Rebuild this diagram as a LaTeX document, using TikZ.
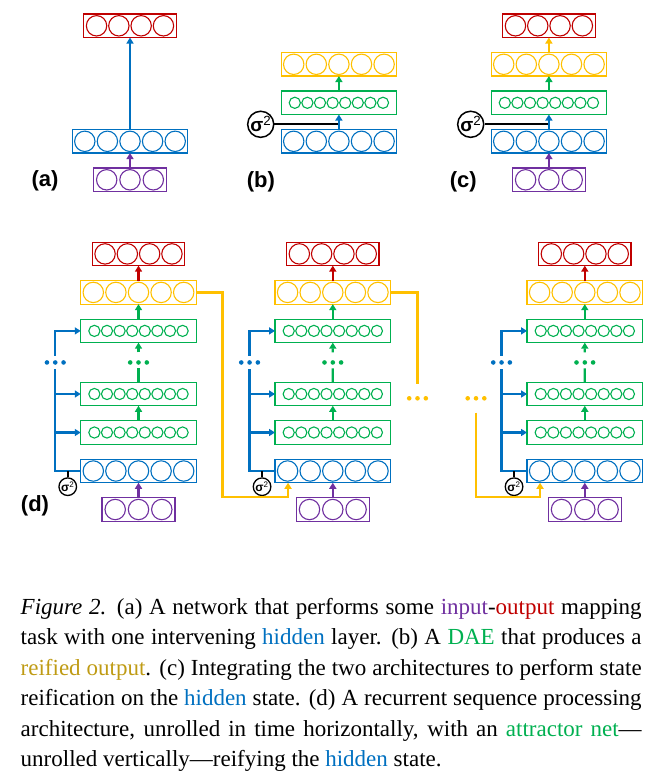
\documentclass[tikz,border=0pt]{standalone}
\usepackage{fontspec}
\setmainfont{Liberation Serif}
\setsansfont{Liberation Sans}
\usetikzlibrary{positioning}
\usetikzlibrary{calc}
\usetikzlibrary{arrows.meta}

\definecolor{outred}{RGB}{192,0,0}
\definecolor{hidblue}{RGB}{0,112,192}
\definecolor{inpurple}{RGB}{112,48,160}
\definecolor{daegreen}{RGB}{0,176,80}
\definecolor{reiyellow}{RGB}{255,192,0}
\definecolor{capgold}{RGB}{191,155,20}

% units drawn inside a layer box: node, colour, count, pitch, radius
\newcommand{\neurons}[5]{%
  \foreach \k in {1,...,#3}
    \draw[draw=#2, line width=1.1pt] ($(#1.center)+({(\k-(#3+1)/2)*#4},0)$) circle (#5);
}
% three dots: centre, colour
\newcommand{\dotrow}[2]{%
  \foreach \dx in {-8.3,0,8.3}
    \fill[#2] ($(#1)+(\dx,0)$) circle (2.3pt);
}

\begin{document}
\begin{tikzpicture}[x=1pt, y=-1pt, node distance=15pt,
    layer/.style={draw=#1, line width=1.3pt, minimum height=23.5pt, inner sep=0pt, outer sep=0pt},
    five/.style={minimum width=115.5pt},
    four/.style={minimum width=92.5pt},
    three/.style={minimum width=73pt},
    flow/.style={draw=#1, line width=2.2pt, -{Triangle[length=6pt,width=7pt]}},
    wire/.style={draw=#1, line width=2.2pt},
    sigtick/.style={draw=black, line width=1.6pt},
    noise/.style={draw, circle, line width=1.5pt, minimum size=25pt, inner sep=0pt, font=\sffamily\bfseries\fontsize{19}{19}\selectfont},
    smallnoise/.style={noise, minimum size=17.6pt, line width=1.3pt, font=\sffamily\bfseries\fontsize{12}{12}\selectfont},
    panel/.style={font=\sffamily\bfseries\fontsize{22}{22}\selectfont},
    captext/.style={align=left, inner sep=0pt, font=\fontsize{23}{30.5}\selectfont}]
    \useasboundingbox (0,0) rectangle (664,776);

    % (a) input - hidden - output
    \node[layer=hidblue, five] (a-hid) at (130,141.3) {};
    \node[layer=outred, four, above=92pt of a-hid] (a-out) {};
    \node[layer=inpurple, three, below=of a-hid] (a-in) {};
    \neurons{a-hid}{hidblue}{5}{22.6}{10.2pt}
    \neurons{a-out}{outred}{4}{22.3}{10.2pt}
    \neurons{a-in}{inpurple}{3}{23.3}{10.2pt}
    \draw[flow=inpurple] (a-in) -- (a-hid);
    \draw[flow=hidblue] (a-hid) -- (a-out);
    \node[panel] (a-lab) at (45,181) {(a)};

    % (b) denoising autoencoder
    \node[layer=hidblue, five] (b-hid) at (338.9,141.3) {};
    \node[layer=daegreen, five, above=of b-hid] (b-dae) {};
    \node[layer=reiyellow, five, above=of b-dae] (b-rei) {};
    \neurons{b-hid}{hidblue}{5}{22.6}{10.2pt}
    \neurons{b-dae}{daegreen}{8}{12.6}{5.6pt}
    \neurons{b-rei}{reiyellow}{5}{22.6}{10.2pt}
    \node[noise] (b-sig) at (260.7,124.3) {σ\textsuperscript{\mdseries 2}};
    \draw[wire=black] (b-sig) -- (b-sig -| b-hid);
    \draw[flow=hidblue] (b-hid) -- (b-dae);
    \draw[flow=daegreen] (b-dae) -- (b-rei);
    \node[panel] (b-lab) at (260.8,181.7) {(b)};

    % (c) both together
    \node[layer=hidblue, five] (c-hid) at (548.9,141.3) {};
    \node[layer=daegreen, five, above=of c-hid] (c-dae) {};
    \node[layer=reiyellow, five, above=of c-dae] (c-rei) {};
    \node[layer=outred, four, above=of c-rei] (c-out) {};
    \node[layer=inpurple, three, below=of c-hid] (c-in) {};
    \neurons{c-hid}{hidblue}{5}{22.6}{10.2pt}
    \neurons{c-dae}{daegreen}{8}{12.6}{5.6pt}
    \neurons{c-rei}{reiyellow}{5}{22.6}{10.2pt}
    \neurons{c-out}{outred}{4}{22.3}{10.2pt}
    \neurons{c-in}{inpurple}{3}{23.3}{10.2pt}
    \node[noise] (c-sig) at (470.7,124.3) {σ\textsuperscript{\mdseries 2}};
    \draw[wire=black] (c-sig) -- (c-sig -| c-hid);
    \draw[flow=inpurple] (c-in) -- (c-hid);
    \draw[flow=hidblue] (c-hid) -- (c-dae);
    \draw[flow=daegreen] (c-dae) -- (c-rei);
    \draw[flow=reiyellow] (c-rei) -- (c-out);
    \node[panel] (c-lab) at (463.3,181.7) {(c)};

    % (d) unrolled in time
    \foreach \c/\x in {1/138.5, 2/332.8, 3/584.8} {
        \node[layer=hidblue, five] (d\c-hid) at (\x,471) {};
        \node[layer=daegreen, five, above=of d\c-hid] (d\c-att1) {};
        \node[layer=daegreen, five, above=of d\c-att1] (d\c-att2) {};
        \node[layer=daegreen, five, above=39.6pt of d\c-att2] (d\c-att3) {};
        \node[layer=reiyellow, five, above=of d\c-att3] (d\c-rei) {};
        \node[layer=outred, four, above=of d\c-rei] (d\c-out) {};
        \node[layer=inpurple, three, below=of d\c-hid] (d\c-in) {};
        \neurons{d\c-hid}{hidblue}{5}{22.6}{10.2pt}
        \neurons{d\c-att1}{daegreen}{8}{12.6}{5.6pt}
        \neurons{d\c-att2}{daegreen}{8}{12.6}{5.6pt}
        \neurons{d\c-att3}{daegreen}{8}{12.6}{5.6pt}
        \neurons{d\c-rei}{reiyellow}{5}{22.6}{10.2pt}
        \neurons{d\c-out}{outred}{4}{22.3}{10.2pt}
        \neurons{d\c-in}{inpurple}{3}{23.3}{10.2pt}
        \coordinate (d\c-gap) at ($(d\c-att2.north)!0.5!(d\c-att3.south)$);
        \coordinate (d\c-bus) at ($(d\c-hid.west |- d\c-gap)+(-25.5,0)$);
        \coordinate (d\c-entry) at ($(d\c-hid.south west)+(13,0)$);
        \dotrow{d\c-gap}{daegreen}
        \dotrow{d\c-bus}{hidblue}
        \draw[flow=inpurple] (d\c-in) -- (d\c-hid);
        \draw[flow=daegreen] (d\c-att1) -- (d\c-att2);
        \draw[wire=daegreen] (d\c-att2) -- ($(d\c-gap)+(0,6)$);
        \draw[flow=daegreen] ($(d\c-gap)+(0,-10)$) -- (d\c-att3);
        \draw[flow=daegreen] (d\c-att3) -- (d\c-rei);
        \draw[flow=outred] (d\c-rei) -- (d\c-out);
        \draw[wire=hidblue] (d\c-hid.west) -| ($(d\c-bus)+(0,7)$);
        \draw[flow=hidblue] ($(d\c-bus)+(0,-6.5)$) |- (d\c-att3.west);
        \draw[flow=hidblue] (d\c-bus |- d\c-att1) -- (d\c-att1.west);
        \draw[flow=hidblue] (d\c-bus |- d\c-att2) -- (d\c-att2.west);
        \node[smallnoise] (d\c-sig) at ($(d\c-hid.west)+(-13,15.7)$) {σ\textsuperscript{\mdseries 2}};
        \draw[sigtick] (d\c-sig) -- (d\c-sig |- d\c-hid);
    }
    % recurrent links
    \coordinate (ylink-out) at (417.5,398.3);
    \coordinate (ylink-in) at (476,398.3);
    \draw[flow=reiyellow] (d1-rei.east) -- ++(26.3,0) |- ($(d2-entry)+(0,14)$) -- (d2-entry);
    \draw[wire=reiyellow] (d2-rei.east) -| ($(ylink-out)+(0,-14.3)$);
    \dotrow{ylink-out}{reiyellow}
    \dotrow{ylink-in}{reiyellow}
    \draw[flow=reiyellow] ($(ylink-in)+(0,14.4)$) |- ($(d3-entry)+(0,14)$) -- (d3-entry);
    \node[panel] (d-lab) at (35,506) {(d)};

    % caption (base anchor sits on the last line)
    \node[captext, anchor=base west] (cap) at (20.5,766.5) {%
        \makebox[621pt][s]{\textit{Figure 2.} (a) A network that performs some \textcolor{inpurple}{input}-\textcolor{outred}{output} mapping}\\
        \makebox[621pt][s]{task with one intervening \textcolor{hidblue}{hidden} layer. (b) A \textcolor{daegreen}{DAE} that produces a}\\
        \makebox[621pt][s]{\textcolor{capgold}{reified output}. (c) Integrating the two architectures to perform state}\\
        \makebox[621pt][s]{reification on the \textcolor{hidblue}{hidden} state. (d) A recurrent sequence processing}\\
        \makebox[621pt][s]{architecture, unrolled in time horizontally, with an \textcolor{daegreen}{attractor net}---}\\
        unrolled vertically---reifying the \textcolor{hidblue}{hidden} state.};
\end{tikzpicture}
\end{document}
